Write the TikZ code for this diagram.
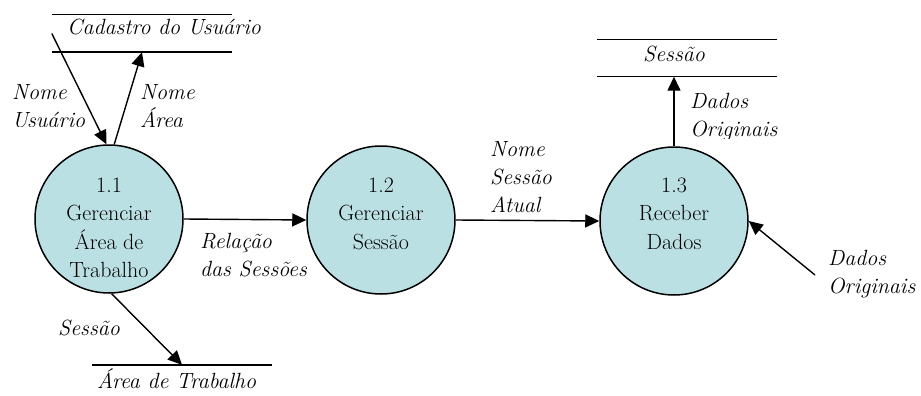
\documentclass[tikz,border=0pt]{standalone}
\usepackage{fontspec}
\usetikzlibrary{arrows.meta}
\definecolor{procfill}{RGB}{187,224,228}
\begin{document}
\begin{tikzpicture}[x=1pt,y=-1pt,
  proc/.style={circle, draw, line width=1.5pt, fill=procfill, minimum size=148pt, inner sep=0pt},
  ptext/.style={align=center, inner sep=0pt, font=\fontsize{22}{28.5}\selectfont},
  lbl/.style={align=left, inner sep=0pt, font=\fontsize{22}{28}\selectfont\itshape},
  store/.style={minimum width=180pt, minimum height=37pt, inner sep=0pt},
  flow/.style={line width=1.4pt, -{Triangle[length=14pt,width=13pt]}}]
\useasboundingbox (0,0) rectangle (921,396);
% processes
\node[proc] (p1) at (109,219){};
\node[ptext, anchor=north] (p1t) at (109,177.3){1.1\\Gerenciar\\Área de\\Trabalho};
\node[proc] (p2) at (381,220){};
\node[ptext, anchor=north] (p2t) at (381,177.3){1.2\\Gerenciar\\Sessão};
\node[proc] (p3) at (674,221){};
\node[ptext, anchor=north] (p3t) at (674,177.3){1.3\\Receber\\Dados};
% data stores
\node[store] (cad) at (142,33.5){};
\draw[line width=1.4pt](cad.north west) -- (cad.north east) (cad.south west) -- (cad.south east);
\node[lbl, anchor=base west] (cadt) at (67,35){Cadastro do Usuário};
\node[store] (ses) at (687,58){};
\draw[line width=1.4pt](ses.north west) -- (ses.north east) (ses.south west) -- (ses.south east);
\node[lbl, anchor=base west] (sest) at (643,62){Sessão};
\node[store] (trab) at (182,383.5){};
\draw[line width=1.4pt](trab.north west) -- (trab.north east);
\node[lbl, anchor=base west] (trabt) at (97,388){Área de Trabalho};
\coordinate (ext) at (815,275);
% flows
\draw[flow](cad.west) -- (p1.92);
\draw[flow](p1.86) -- (cad.south);
\draw[flow](p1.east) -- (p2.west);
\draw[flow](p1.-88) -- (trab.north);
\draw[flow](p2.east) -- (p3.west);
\draw[flow](p3.north) -- (p3.north |- ses.south);
\draw[flow](ext) -- (p3.east);
% flow labels
\begin{scope}
\clip (0,0) rectangle (921,126);
\node[lbl, anchor=north west] (l1) at (12,84.7){Nome\\Usuário};
\node[lbl, anchor=north west] (l2) at (140,84.7){Nome\\Área};
\end{scope}
\begin{scope}
\clip (600,0) rectangle (921,138);
\node[lbl, anchor=north west] (l6) at (690,92.7){Dados\\Originais};
\end{scope}
\node[lbl, anchor=north west] (l3) at (200,232.7){Relação\\das Sessões};
\node[lbl, anchor=base west] (l4) at (58,335){Sessão};
\node[lbl, anchor=north west] (l5) at (490,141.7){Nome\\Sessão\\Atual};
\node[lbl, anchor=north west] (l7) at (828,249.7){Dados\\Originais};
\end{tikzpicture}
\end{document}
